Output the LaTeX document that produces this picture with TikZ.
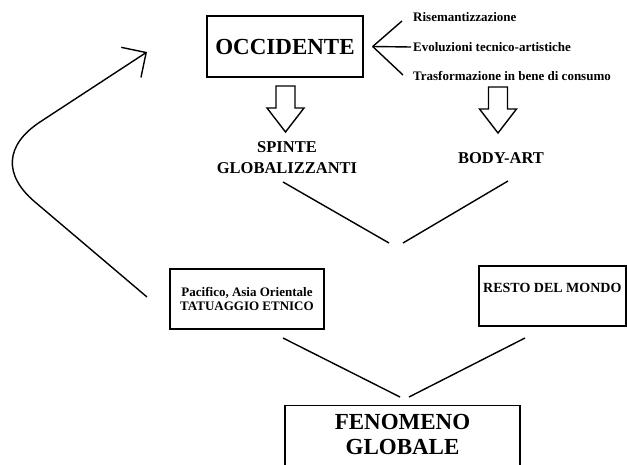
\documentclass[tikz,border=0pt]{standalone}
\usepackage{fontspec}
\setmainfont{Liberation Serif}
\usetikzlibrary{positioning,arrows.meta}

\begin{document}
\begin{tikzpicture}[
  x=1pt, y=-1pt,
  link/.style={line width=1.4pt},
  frame/.style={draw, rectangle, line width=1.4pt, inner sep=0pt},
  title/.style={font=\bfseries\fontsize{23}{25}\selectfont, align=center},
  head/.style={font=\bfseries\fontsize{16.5}{21}\selectfont, align=center, inner sep=0pt},
  note/.style={font=\bfseries\fontsize{13}{13.5}\selectfont, inner sep=0pt},
  downarrow/.pic={
    \draw[link, line join=miter] (-9.5,0) -- (9.5,0) -- (9.5,22) -- (18.5,22)
      -- (0,46) -- (-18.5,22) -- (-9.5,22) -- cycle;
  }
]
\useasboundingbox (0,0) rectangle (627,464);
\clip (0,0) rectangle (627,464);

% Occidente and its three branches
\node[frame, title, minimum width=156pt, minimum height=61pt] (occ) at (285,46.5) {OCCIDENTE};

\node[note, anchor=west] (ris) at (413,17) {Risemantizzazione};
\node[note, anchor=west] (evo) at (413,47) {Evoluzioni tecnico-artistiche};
\node[note, anchor=west] (tra) at (413,76) {Trasformazione in bene di consumo};

\coordinate (fork) at ([xshift=9pt]occ.east);
\draw[link] (fork) -- ([xshift=-11pt, yshift=-4pt]ris.west);
\draw[link] (fork) -- ([xshift=-2pt]evo.west);
\draw[link] (fork) -- ([xshift=-10pt, yshift=1pt]tra.west);

% Block arrows
\pic at (285.5,86) {downarrow};
\pic at (498,87) {downarrow};

\node[head] (spi) at (287,157.5) {SPINTE\\GLOBALIZZANTI};
\node[head] (body) at (501,158) {BODY-ART};

% Upper V
\coordinate (s1) at (283,182);
\coordinate (b1) at (508,181);
\coordinate (v1) at (389,243);
\coordinate (v2) at (403,243);
\draw[link] (s1) -- (v1);
\draw[link] (b1) -- (v2);

% Middle row
\node[frame, note, align=center, minimum width=154pt, minimum height=60pt] (paci) at (247,299)
  {Pacifico, Asia Orientale\\TATUAGGIO ETNICO};
\node[frame, font=\bfseries\fontsize{14}{15}\selectfont, minimum width=147pt,
  text height=26pt, text depth=34pt] (resto) at (552.3,296) {RESTO DEL MONDO};

% Lower V
\coordinate (p1) at (283,338);
\coordinate (r1) at (525,338);
\coordinate (w1) at (400,397);
\coordinate (w2) at (409,397);
\draw[link] (p1) -- (w1);
\draw[link] (r1) -- (w2);

% Fenomeno globale
\node[frame, minimum width=235pt, minimum height=70pt, anchor=north] (fen) at (402.5,404.5) {};
\node[title, inner sep=0pt, below=10pt of fen.north] (fentxt) {FENOMENO\\GLOBALE};

% Return arrow
\coordinate (cb) at (147,297);
\coordinate (ct) at (147,52);
\draw[link, -{Straight Barb[length=18pt, width=36pt]}]
  (cb) -- (35,202) .. controls (3,175) and (5,145) .. (40,122) -- (ct);

\end{tikzpicture}
\end{document}
